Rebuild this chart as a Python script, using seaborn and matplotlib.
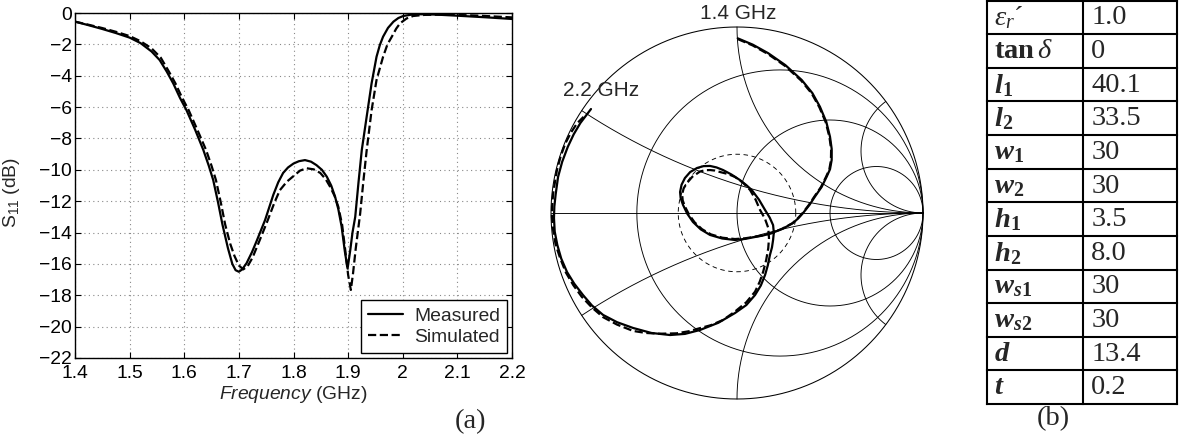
import numpy as np
import pandas as pd
import matplotlib
matplotlib.use('Agg')
import matplotlib.pyplot as plt
import seaborn as sns

# ---------------- data ----------------
freq_meas = [1.400, 1.425, 1.450, 1.475, 1.500, 1.520, 1.540, 1.555, 1.568, 1.580,
             1.592, 1.604, 1.620, 1.635, 1.645, 1.653, 1.662, 1.670, 1.680, 1.688,
             1.694, 1.700, 1.706, 1.714, 1.724, 1.733, 1.748, 1.763, 1.772, 1.781,
             1.790, 1.800, 1.810, 1.821, 1.832, 1.842, 1.852, 1.861, 1.869, 1.876,
             1.882, 1.888, 1.894, 1.899, 1.904, 1.908, 1.913, 1.919, 1.925, 1.934,
             1.943, 1.952, 1.958, 1.964, 1.973, 1.983, 1.992, 2.001, 2.015, 2.032,
             2.060, 2.099, 2.150, 2.200]
s11_meas = [-0.55, -0.78, -1.02, -1.28, -1.57, -1.92, -2.45, -3.00, -3.74, -4.50,
            -5.40, -6.19, -7.45, -8.74, -9.75, -10.65, -12.1, -13.5, -15.0, -16.0,
            -16.4, -16.5, -16.35, -15.96, -15.25, -14.5, -13.2, -11.6, -10.8, -10.2,
            -9.85, -9.6, -9.45, -9.38, -9.48, -9.7, -10.0, -10.44, -11.0, -11.7,
            -12.5, -13.6, -15.2, -16.3, -15.1, -14.0, -13.0, -10.8, -8.74, -6.6,
            -4.48, -2.79, -2.05, -1.51, -0.95, -0.55, -0.32, -0.19, -0.11, -0.08,
            -0.10, -0.17, -0.27, -0.38]

freq_sim = [1.400, 1.425, 1.450, 1.475, 1.500, 1.520, 1.540, 1.557, 1.572, 1.584,
            1.596, 1.608, 1.624, 1.640, 1.650, 1.658, 1.667, 1.675, 1.684, 1.692,
            1.700, 1.708, 1.716, 1.725, 1.738, 1.753, 1.765, 1.775, 1.788, 1.800,
            1.812, 1.824, 1.837, 1.849, 1.859, 1.867, 1.875, 1.882, 1.889, 1.895,
            1.900, 1.905, 1.909, 1.914, 1.922, 1.928, 1.934, 1.943, 1.952, 1.964,
            1.972, 1.980, 1.988, 1.995, 2.007, 2.019, 2.040, 2.081, 2.140, 2.200]
s11_sim = [-0.55, -0.75, -0.96, -1.20, -1.47, -1.80, -2.25, -2.85, -3.74, -4.50,
           -5.40, -6.19, -7.45, -8.74, -9.75, -10.65, -12.1, -13.5, -14.7, -15.5,
           -16.1, -16.35, -16.15, -15.6, -14.5, -13.2, -12.1, -11.3, -10.75, -10.4,
           -10.05, -9.9, -9.97, -10.2, -10.6, -11.08, -11.65, -12.35, -13.5, -15.2,
           -16.7, -17.66, -16.6, -15.0, -12.8, -10.7, -8.74, -6.19, -4.27, -2.79,
           -2.00, -1.51, -1.00, -0.66, -0.35, -0.19, -0.12, -0.10, -0.17, -0.28]

gamma_re_meas = [0.004, 0.085, 0.168, 0.260, 0.348, 0.405, 0.446, 0.480, 0.500, 0.509,
                 0.509, 0.500, 0.482, 0.455, 0.419, 0.390, 0.357, 0.330, 0.301, 0.245,
                 0.187, 0.140, 0.097, 0.045, -0.011, -0.080, -0.145, -0.195, -0.237, -0.268,
                 -0.290, -0.303, -0.306, -0.298, -0.280, -0.252, -0.215, -0.180, -0.145, -0.110,
                 -0.075, -0.030, 0.016, 0.050, 0.079, 0.118, 0.151, 0.176, 0.194, 0.198,
                 0.194, 0.188, 0.177, 0.166, 0.151, 0.128, 0.097, 0.050, -0.011, -0.100,
                 -0.199, -0.280, -0.360, -0.460, -0.559, -0.645, -0.720, -0.780, -0.828, -0.875,
                 -0.914, -0.945, -0.966, -0.980, -0.984, -0.982, -0.975, -0.962, -0.940, -0.910,
                 -0.878, -0.842, -0.785]
gamma_im_meas = [0.939, 0.905, 0.859, 0.795, 0.715, 0.645, 0.571, 0.490, 0.410, 0.345,
                 0.285, 0.235, 0.195, 0.140, 0.088, 0.044, 0.002, -0.028, -0.054, -0.085,
                 -0.108, -0.121, -0.129, -0.139, -0.145, -0.137, -0.118, -0.088, -0.048, -0.003,
                 0.043, 0.080, 0.113, 0.152, 0.188, 0.220, 0.242, 0.252, 0.253, 0.245,
                 0.231, 0.207, 0.177, 0.150, 0.124, 0.072, 0.016, -0.025, -0.065, -0.105,
                 -0.145, -0.185, -0.226, -0.280, -0.333, -0.390, -0.441, -0.495, -0.538, -0.590,
                 -0.629, -0.650, -0.656, -0.645, -0.618, -0.587, -0.548, -0.497, -0.441, -0.380,
                 -0.317, -0.245, -0.172, -0.100, -0.027, 0.035, 0.100, 0.194, 0.275, 0.355,
                 0.423, 0.484, 0.559]

gamma_re_sim = [0.004, 0.084, 0.166, 0.258, 0.345, 0.402, 0.443, 0.477, 0.497, 0.506,
                0.505, 0.496, 0.478, 0.451, 0.415, 0.386, 0.353, 0.326, 0.298, 0.242,
                0.185, 0.138, 0.095, 0.043, -0.011, -0.078, -0.140, -0.188, -0.228, -0.258,
                -0.280, -0.292, -0.295, -0.287, -0.270, -0.240, -0.199, -0.172, -0.145, -0.118,
                -0.090, -0.050, -0.011, 0.032, 0.070, 0.100, 0.124, 0.150, 0.168, 0.172,
                0.168, 0.157, 0.141, 0.122, 0.097, 0.050, -0.011, -0.075, -0.140, -0.199,
                -0.260, -0.325, -0.414, -0.490, -0.559, -0.645, -0.720, -0.780, -0.835, -0.880,
                -0.920, -0.950, -0.975, -0.988, -0.995, -0.994, -0.988, -0.968, -0.948, -0.923,
                -0.893, -0.860, -0.825]
gamma_im_sim = [0.935, 0.901, 0.855, 0.791, 0.712, 0.642, 0.568, 0.488, 0.408, 0.343,
                0.283, 0.233, 0.193, 0.139, 0.087, 0.043, 0.000, -0.029, -0.055, -0.085,
                -0.108, -0.120, -0.128, -0.136, -0.140, -0.133, -0.115, -0.087, -0.050, -0.008,
                0.035, 0.068, 0.100, 0.132, 0.160, 0.195, 0.223, 0.230, 0.231, 0.228,
                0.220, 0.210, 0.194, 0.163, 0.124, 0.072, 0.016, -0.030, -0.080, -0.135,
                -0.190, -0.252, -0.315, -0.370, -0.423, -0.480, -0.530, -0.575, -0.603, -0.619,
                -0.636, -0.647, -0.649, -0.645, -0.634, -0.600, -0.560, -0.508, -0.450, -0.388,
                -0.320, -0.245, -0.170, -0.095, -0.020, 0.034, 0.110, 0.231, 0.305, 0.374,
                0.432, 0.482, 0.517]

x_ticks = [1.4, 1.5, 1.6, 1.7, 1.8, 1.9, 2.0, 2.1, 2.2]
x_tick_labels = ['1.4', '1.5', '1.6', '1.7', '1.8', '1.9', '2', '2.1', '2.2']
y_ticks = [0, -2, -4, -6, -8, -10, -12, -14, -16, -18, -20, -22]
y_tick_labels = ['0', '\u22122', '\u22124', '\u22126', '\u22128', '\u221210', '\u221212',
                 '\u221214', '\u221216', '\u221218', '\u221220', '\u221222']

smith_r = [0.3, 1.0, 3.0]
smith_x = [0.3, 1.0, 3.0]
gamma_10db = 0.316

param_names = [r'$\varepsilon_{r}$' + '\u00b4', r'$\mathbf{tan}\,\delta$',
               r'$\mathbfit{l}_{\mathbf{1}}$', r'$\mathbfit{l}_{\mathbf{2}}$',
               r'$\mathbfit{w}_{\mathbf{1}}$', r'$\mathbfit{w}_{\mathbf{2}}$',
               r'$\mathbfit{h}_{\mathbf{1}}$', r'$\mathbfit{h}_{\mathbf{2}}$',
               r'$\mathbfit{w}_{\mathbfit{s}\mathbf{1}}$', r'$\mathbfit{w}_{\mathbfit{s}\mathbf{2}}$',
               r'$\mathbfit{d}$', r'$\mathbfit{t}$']
param_values = ['1.0', '0', '40.1', '33.5', '30', '30', '3.5', '8.0', '30', '30', '13.4', '0.2']

# ---------------- style ----------------
sns.set_style('ticks')
plt.rcParams['font.family'] = ['Liberation Sans', 'DejaVu Sans']
plt.rcParams['mathtext.fontset'] = 'custom'
plt.rcParams['mathtext.rm'] = 'Liberation Serif'
plt.rcParams['mathtext.it'] = 'Liberation Serif:italic'
plt.rcParams['mathtext.bf'] = 'Liberation Serif:bold'
plt.rcParams['mathtext.bfit'] = 'Liberation Serif:italic:bold'
plt.rcParams['mathtext.sf'] = 'Liberation Sans:italic'
plt.rcParams['axes.unicode_minus'] = True

W, H = 1179, 446
fig = plt.figure(figsize=(W / 100, H / 100), dpi=100)

# ---------------- (a) S11 plot ----------------
ax = fig.add_axes([75 / W, (H - 358) / H, 437 / W, 345 / H])
df_m = pd.DataFrame({'f': freq_meas, 's': s11_meas})
df_s = pd.DataFrame({'f': freq_sim, 's': s11_sim})
sns.lineplot(data=df_m, x='f', y='s', ax=ax, color='black', lw=1.6,
             label='Measured', sort=False, estimator=None)
sns.lineplot(data=df_s, x='f', y='s', ax=ax, color='black', lw=1.6,
             linestyle='--', label='Simulated', sort=False, estimator=None)
ax.set_xlim(1.4, 2.2)
ax.set_ylim(-22, 0)
ax.set_xticks(x_ticks)
ax.set_xticklabels(x_tick_labels)
ax.set_yticks(y_ticks)
ax.set_yticklabels(y_tick_labels)
ax.tick_params(direction='in', length=4, width=0.8, top=True, right=True,
               labelsize=13.9, colors='black')
ax.tick_params(axis='x', pad=5)
ax.tick_params(axis='y', pad=2)
ax.grid(True, color='#888888', linestyle=(0, (1, 3)), lw=0.8)
for s in ax.spines.values():
    s.set_color('black')
    s.set_linewidth(1.0)
ax.set_xlabel(r'$\mathsf{Frequency}$ (GHz)', fontsize=13.9)
ax.set_ylabel(r'$\mathregular{S_{11}}$ (dB)', fontsize=13.9)
ax.xaxis.set_label_coords(0.5, -0.075)
ax.yaxis.set_label_coords(-0.122, 0.48)
leg = ax.legend(loc='lower right', frameon=True, fancybox=False, edgecolor='black',
                framealpha=1, fontsize=13.9, handlelength=1.8, handletextpad=0.6,
                labelspacing=0.2, borderpad=0.35, borderaxespad=0.27)
leg.get_frame().set_linewidth(1.0)

# ---------------- Smith chart ----------------
R = 186
cx, cy = 737, 213
span = 1.1
sax = fig.add_axes([(cx - span * R) / W, (H - cy - span * R) / H, 2 * span * R / W, 2 * span * R / H])
sax.set_xlim(-span, span)
sax.set_ylim(-span, span)
sax.set_aspect('equal')
sax.axis('off')

t = np.linspace(0, 2 * np.pi, 721)
gl = dict(color='black', lw=0.65)
sax.plot(np.cos(t), np.sin(t), color='black', lw=0.75)
sax.plot([-1, 1], [0, 0], **gl)
for r in smith_r:
    c, rad = r / (1 + r), 1 / (1 + r)
    sax.plot(c + rad * np.cos(t), rad * np.sin(t), **gl)
rr = np.concatenate([np.linspace(0, 1, 300), np.logspace(0, 4, 400)])
for xv in smith_x:
    for sgn in (1, -1):
        z = rr + 1j * sgn * xv
        g = (z - 1) / (z + 1)
        sax.plot(g.real, g.imag, **gl)
sax.plot(gamma_10db * np.cos(t), gamma_10db * np.sin(t), color='black', lw=0.65,
         linestyle=(0, (5, 4)))

df_gm = pd.DataFrame({'re': gamma_re_meas, 'im': gamma_im_meas})
df_gs = pd.DataFrame({'re': gamma_re_sim, 'im': gamma_im_sim})
sns.lineplot(data=df_gs, x='re', y='im', ax=sax, color='black', lw=1.6,
             linestyle='--', sort=False, estimator=None)
sns.lineplot(data=df_gm, x='re', y='im', ax=sax, color='black', lw=1.6,
             sort=False, estimator=None)
sax.axis('off')
sax.text(0.005, 1.075, '1.4 GHz', ha='center', va='center', fontsize=15)
sax.text(-0.731, 0.661, '2.2 GHz', ha='center', va='center', fontsize=15)

# ---------------- (b) parameter table ----------------
tx0, tx1, ty0, ty1 = 987, 1177, 0.5, 404
tax = fig.add_axes([tx0 / W, (H - ty1) / H, (tx1 - tx0) / W, (ty1 - ty0) / H])
n = len(param_names)
tax.set_xlim(0, 1)
tax.set_ylim(n, 0)
tax.axis('off')
xdiv = (1082.7 - tx0) / (tx1 - tx0)
for i in range(n + 1):
    tax.plot([0, 1], [i, i], color='black', lw=1.5, solid_capstyle='projecting', clip_on=False)
for xv in (0, xdiv, 1):
    tax.plot([xv, xv], [0, n], color='black', lw=1.5, solid_capstyle='projecting', clip_on=False)
for i, (nm, val) in enumerate(zip(param_names, param_values)):
    tax.text(0.035, i + 0.52, nm, ha='left', va='center', fontsize=20.5,
             family='Liberation Serif')
    tax.text(xdiv + 0.045, i + 0.52, val, ha='left', va='center', fontsize=20.5,
             family='Liberation Serif')

fig.text(470 / W, 1 - 422 / H, '(a)', ha='center', va='center', fontsize=20.5,
         family='Liberation Serif')
fig.text(1053 / W, 1 - 419 / H, '(b)', ha='center', va='center', fontsize=20.5,
         family='Liberation Serif')

fig.savefig('out.png', dpi=100)
